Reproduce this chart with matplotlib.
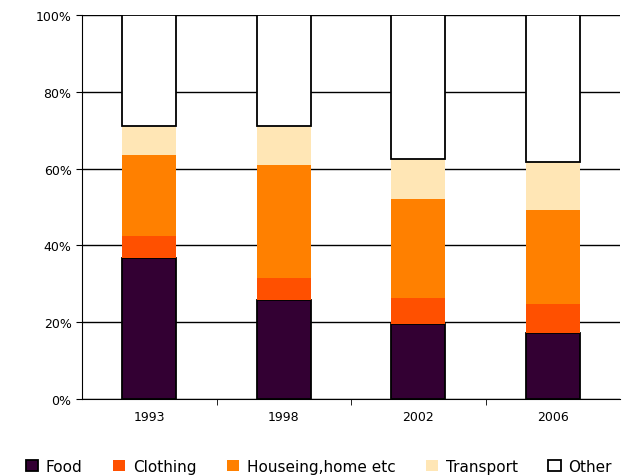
import matplotlib.pyplot as plt
import numpy as np
from matplotlib.ticker import PercentFormatter

years = ["1993", "1998", "2002", "2006"]
food = [36.7, 25.8, 19.5, 17.1]
clothing = [5.7, 5.6, 6.7, 7.6]
housing = [21.2, 29.6, 26.0, 24.4]
transport = [7.4, 10.0, 10.4, 12.5]
other = [29.0, 29.0, 37.4, 38.4]

series = [
    ("Food", food, "#330033", "black"),
    ("Clothing", clothing, "#ff5000", "none"),
    ("Houseing,home etc", housing, "#ff8000", "none"),
    ("Transport", transport, "#ffe6b5", "none"),
    ("Other", other, "white", "black"),
]

fig = plt.figure(figsize=(6.29, 4.77), dpi=100)
ax = fig.add_axes([82 / 629, 77 / 477, 538 / 629, 384 / 477])
x = np.arange(len(years))
bottom = np.zeros(len(years))
for label, vals, color, edge in series:
    ax.bar(x, vals, 0.4, bottom=bottom, color=color, edgecolor=edge,
           linewidth=1.3 if edge != "none" else 0, label=label, zorder=3)
    bottom += np.array(vals)

ax.set_xlim(-0.5, 3.5)
ax.set_ylim(0, 100)
ax.set_yticks(range(0, 101, 20))
ax.yaxis.set_major_formatter(PercentFormatter(decimals=0))
ax.set_xticks(x)
ax.set_xticklabels(years)
ax.set_xticks([0.5, 1.5, 2.5], minor=True)
ax.tick_params(axis="x", which="major", length=0, pad=8)
ax.tick_params(axis="x", which="minor", length=4)
ax.tick_params(axis="y", length=4)
ax.tick_params(labelsize=9)
ax.grid(axis="y", color="black", linewidth=1, zorder=0)
for s in ["top", "right"]:
    ax.spines[s].set_visible(False)

ax.legend(loc="center left", bbox_to_anchor=(-0.13, -0.175), ncol=5, frameon=False,
          fontsize=11, handlelength=0.8, handleheight=0.8, columnspacing=2.0,
          handletextpad=0.5)
fig.savefig("out.png", dpi=100)
